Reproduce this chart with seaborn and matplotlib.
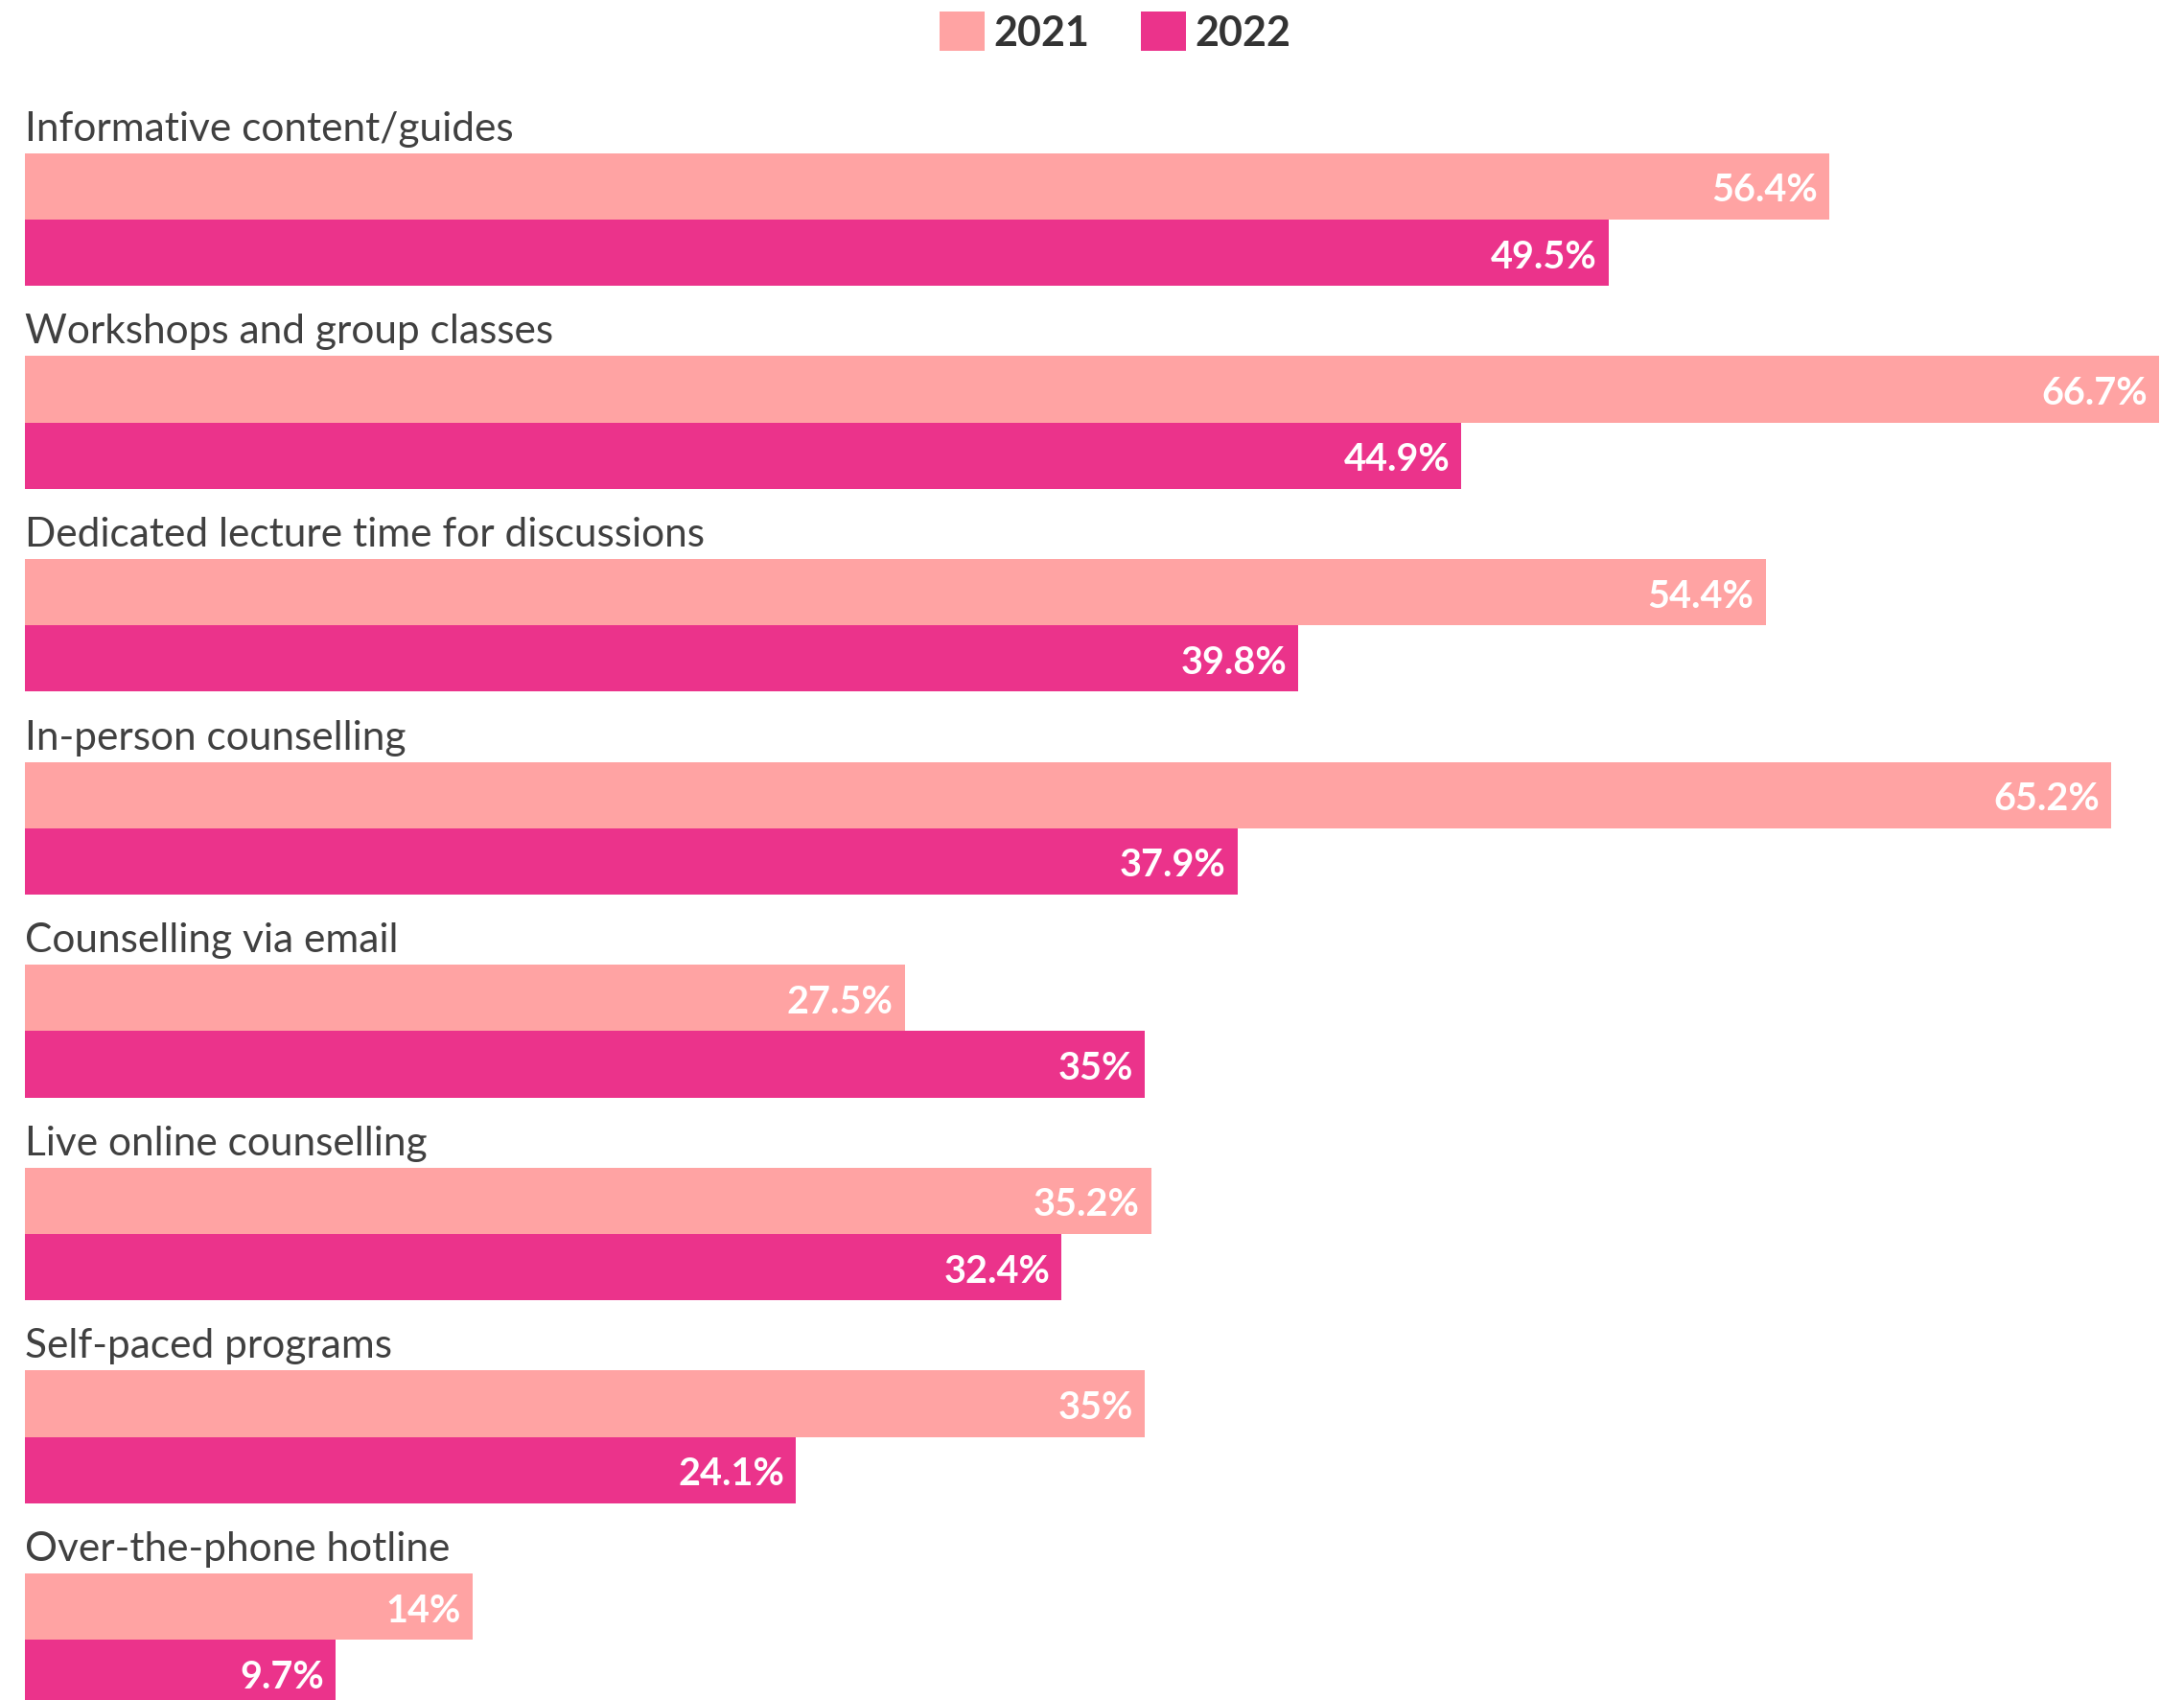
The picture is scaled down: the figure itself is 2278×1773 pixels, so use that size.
import matplotlib
matplotlib.use("Agg")
import matplotlib.pyplot as plt
import seaborn as sns
import pandas as pd
from matplotlib.patches import Patch

categories = [
    "Informative content/guides",
    "Workshops and group classes",
    "Dedicated lecture time for discussions",
    "In-person counselling",
    "Counselling via email",
    "Live online counselling",
    "Self-paced programs",
    "Over-the-phone hotline",
]
values_2021 = [56.4, 66.7, 54.4, 65.2, 27.5, 35.2, 35.0, 14.0]
values_2022 = [49.5, 44.9, 39.8, 37.9, 35.0, 32.4, 24.1, 9.7]
years = ["2021", "2022"]
colors = {"2021": "#FFA3A3", "2022": "#EB338B"}

df = pd.DataFrame({
    "category": categories * 2,
    "value": values_2021 + values_2022,
    "year": ["2021"] * len(categories) + ["2022"] * len(categories),
})

sns.set_theme(style="white")
plt.rcParams["font.family"] = ["Lato", "DejaVu Sans"]

W, H = 2278, 1774
fig = plt.figure(figsize=(W / 100, H / 100), dpi=100)
left_px, right_px = 26, 2252
ax = fig.add_axes([left_px / W, 0, (right_px - left_px) / W, 1])

sns.barplot(data=df, y="category", x="value", hue="year", orient="h",
            palette=colors, width=0.654, ax=ax, legend=False,
            saturation=1, linewidth=0)

pitch = 211.6
y0 = 230
ax.set_xlim(0, max(values_2021 + values_2022))
ax.set_ylim((H - y0) / pitch, -y0 / pitch)
ax.axis("off")

def fmt(v):
    return f"{v:g}%"

px_per_x = (right_px - left_px) / max(values_2021 + values_2022)
pad = 12 / px_per_x
half = 0.654 / 2
for i, cat in enumerate(categories):
    ax.text(0, i - half - 14 / pitch, cat, ha="left", va="baseline",
            fontsize=30.5, color="#404040")
    for v, off in ((values_2021[i], -half / 2), (values_2022[i], half / 2)):
        ax.text(v - pad, i + off, fmt(v), ha="right", va="center_baseline",
                fontsize=28.5, fontweight="bold", color="white")

handles = [Patch(facecolor=colors[y], edgecolor="none", label=y) for y in years]
fig.legend(handles=handles, loc="center", bbox_to_anchor=(1163 / W, 1 - 34 / H),
           ncol=2, frameon=False, prop={"weight": "bold", "size": 31},
           labelcolor="#333333", handlelength=1.1, handleheight=1.1,
           handletextpad=0.2, columnspacing=1.26)

fig.savefig("out.png", dpi=100)
